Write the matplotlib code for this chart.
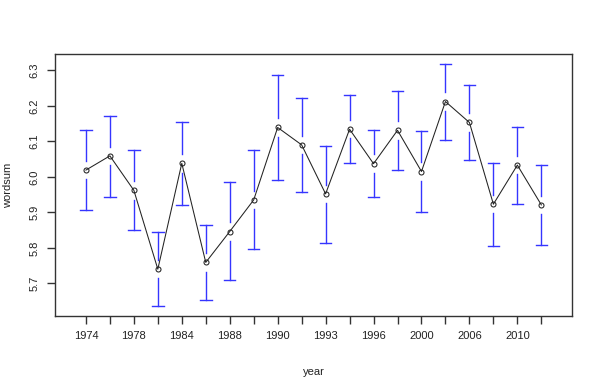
import matplotlib
matplotlib.use("Agg")
import matplotlib.pyplot as plt

plt.rcParams['font.family'] = ['Liberation Sans', 'DejaVu Sans']

# survey years, drawn at equal spacing
years = [1974, 1976, 1978, 1982, 1984, 1987, 1988, 1989, 1990, 1991,
         1993, 1994, 1996, 1998, 2000, 2004, 2006, 2008, 2010, 2012]
mean = [6.019, 6.059, 5.962, 5.740, 6.038, 5.759, 5.846, 5.935, 6.139, 6.090,
        5.952, 6.134, 6.037, 6.131, 6.015, 6.212, 6.153, 5.923, 6.033, 5.921]
upper = [6.133, 6.172, 6.076, 5.845, 6.153, 5.865, 5.985, 6.076, 6.286, 6.223,
         6.088, 6.230, 6.131, 6.243, 6.130, 6.317, 6.259, 6.038, 6.140, 6.033]
lower = [5.906, 5.943, 5.849, 5.635, 5.920, 5.653, 5.710, 5.796, 5.990, 5.958,
         5.815, 6.039, 5.943, 6.018, 5.900, 6.104, 6.046, 5.806, 5.923, 5.808]
shown = [1974, 1978, 1984, 1988, 1990, 1993, 1996, 2000, 2006, 2010]

x = list(range(1, len(years) + 1))

fig = plt.figure(figsize=(6, 3.84), dpi=100)
ax = fig.add_axes([55 / 600, 1 - 315.7 / 384, 517 / 600, 261.4 / 384])

# error bars with a gap around each point (plotCI style)
gap = 0.026
cap = 0.24
blue = '#3535ff'
for xi, m, lo, hi in zip(x, mean, lower, upper):
    ax.plot([xi, xi], [m + gap, hi], color=blue, lw=1.0)
    ax.plot([xi, xi], [lo, m - gap], color=blue, lw=1.0)
    ax.plot([xi - cap, xi + cap], [hi, hi], color=blue, lw=1.0)
    ax.plot([xi - cap, xi + cap], [lo, lo], color=blue, lw=1.0)

ax.plot(x, mean, color='#222222', lw=0.75, marker='o', ms=3.6,
        mfc='none', mec='#222222', mew=0.75)

ax.set_xlim(-0.29, 21.28)
ax.set_ylim(5.609, 6.345)
ax.set_xticks(x)
ax.set_xticklabels([str(y) if y in shown else '' for y in years])
ax.set_yticks([5.7, 5.8, 5.9, 6.0, 6.1, 6.2, 6.3])
ax.set_yticklabels(['5.7', '5.8', '5.9', '6.0', '6.1', '6.2', '6.3'],
                   rotation=90, va='center')

for s in ax.spines.values():
    s.set_color('#333333')
    s.set_linewidth(1)
ax.tick_params(axis='both', colors='#333333', labelcolor='#222222',
               labelsize=8, length=6, width=1)
ax.tick_params(axis='x', pad=5)
ax.tick_params(axis='y', pad=5)

ax.set_xlabel('year', fontsize=8, color='#222222', labelpad=19)
ax.set_ylabel('wordsum', fontsize=8, color='#222222', labelpad=12)

fig.savefig('out.png', dpi=100)
